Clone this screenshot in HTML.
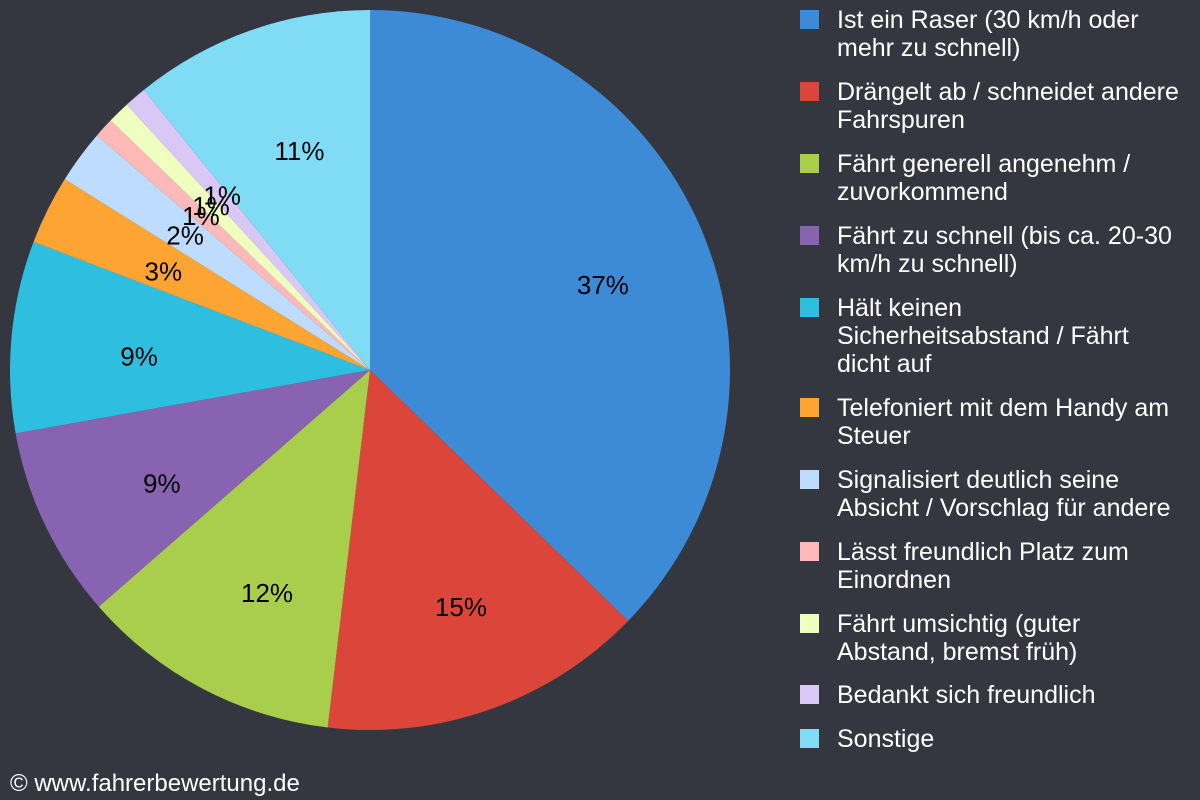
<!DOCTYPE html>
<html><head><meta charset="utf-8"><style>
body{margin:0;background:#353740;width:1200px;height:800px;overflow:hidden;font-family:"Liberation Sans",sans-serif}
.leg{position:absolute;left:800px;color:#fff;font-size:25px;line-height:28px}
.leg .sw{position:absolute;left:0;top:5px;width:19px;height:19px}
.leg .tx{position:absolute;left:37px;width:400px;top:1px;white-space:pre-line}
</style></head><body>
<svg id="pie" width="780" height="800" style="position:absolute;left:0;top:0"></svg>
<div id="legend"></div>
<div style="position:absolute;left:10px;top:770px;color:#fff;font-size:24px">© www.fahrerbewertung.de</div>
<script>
const categories=["Ist ein Raser (30 km/h oder\nmehr zu schnell)","Drängelt ab / schneidet andere\nFahrspuren","Fährt generell angenehm /\nzuvorkommend","Fährt zu schnell (bis ca. 20-30\nkm/h zu schnell)","Hält keinen\nSicherheitsabstand / Fährt\ndicht auf","Telefoniert mit dem Handy am\nSteuer","Signalisiert deutlich seine\nAbsicht / Vorschlag für andere","Lässt freundlich Platz zum\nEinordnen","Fährt umsichtig (guter\nAbstand, bremst früh)","Bedankt sich freundlich","Sonstige"];
const values=[37.25,14.6,11.7,8.6,8.6,3.1,2.4,0.9,1.0,1.0,10.8];
const labels=["37%","15%","12%","9%","9%","3%","2%","1%","1%","1%","11%"];
const colors=["#3d8bd6","#dc463a","#a8ce4c","#8763b2","#2ebfe0","#fda433","#bedcff","#ffb9b9","#efffbf","#d9c8f5","#7fdcf4"];
const legendTops=[5,77,149,221,293,393,465,537,609,680,724];
const NS="http://www.w3.org/2000/svg",svg=document.getElementById('pie');
const cx=370,cy=370,r=360,lr=242;
const tot=values.reduce((a,b)=>a+b,0);
let a0=0;
function pt(a,rad){return [cx+rad*Math.sin(a),cy-rad*Math.cos(a)];}
const texts=[];
values.forEach((v,i)=>{
 const a1=a0+v/tot*2*Math.PI;
 const p0=pt(a0,r),p1=pt(a1,r);
 const p=document.createElementNS(NS,'path');
 p.setAttribute('d',`M${cx},${cy}L${p0[0]},${p0[1]}A${r},${r} 0 ${a1-a0>Math.PI?1:0} 1 ${p1[0]},${p1[1]}Z`);
 p.setAttribute('fill',colors[i]);
 
 
 svg.appendChild(p);
 const m=pt((a0+a1)/2,lr);
 texts.push([m,labels[i],i]);
 a0=a1;
});
texts.forEach(([m,l,i])=>{
 const t=document.createElementNS(NS,'text');
 t.setAttribute('x',m[0]+10);t.setAttribute('y',m[1]+18);
 t.setAttribute('text-anchor','middle');t.setAttribute('font-size','26');
 t.setAttribute('font-family','Liberation Sans, sans-serif');
 t.textContent=l;
 
 
 svg.appendChild(t);
});
const lg=document.getElementById('legend');
categories.forEach((c,i)=>{
 const d=document.createElement('div');d.className='leg';d.style.top=legendTops[i]+'px';
 
 
 d.innerHTML=`<div class="sw" style="background:${colors[i]}"></div><div class="tx">${c}</div>`;
 lg.appendChild(d);
});
</script>
</body></html>
